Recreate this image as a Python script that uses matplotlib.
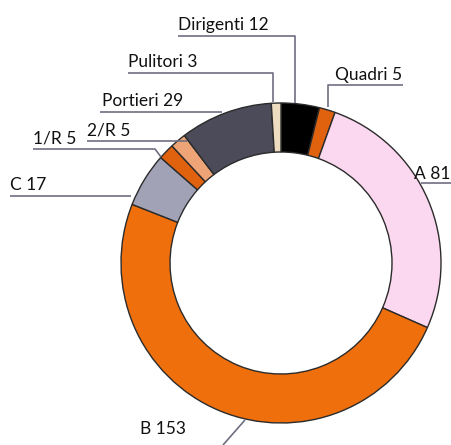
import matplotlib
matplotlib.use('Agg')
import matplotlib.pyplot as plt
from matplotlib import rcParams

rcParams['font.family'] = ['Lato', 'DejaVu Sans']

# data, clockwise from 12 o'clock
categories = ['Dirigenti', 'Quadri', 'A', 'B', 'C', '1/R', '2/R', 'Portieri', 'Pulitori']
counts = [12, 5, 81, 153, 17, 5, 5, 29, 3]
colors = ['#000000', '#e0620e', '#fbd8ef', '#ef6f0c', '#a2a2b6',
          '#e0620e', '#efa478', '#4b4b5a', '#eddcc0']

W, H = 452, 445
CENTER = (281, H - 263)
R_OUT = 160
R_IN = 111

# label layout in pixel coords (x, baseline y) and leader polyline
label_layout = {
    'Dirigenti': ((178, 30), [(178, 36), (295, 36), (295, 103)]),
    'Pulitori': ((128, 67), [(128, 73), (273, 73), (273, 102)]),
    'Quadri': ((335, 80), [(403, 85), (328, 85), (328, 107)]),
    'Portieri': ((102, 106), [(100, 112), (222, 112)]),
    '2/R': ((87, 135), [(87, 141), (187, 141)]),
    '1/R': ((33, 144), [(33, 149), (155, 149), (161, 157)]),
    'C': ((10, 190), [(10, 196), (131, 196)]),
    'A': ((414, 179), [(421, 183), (452, 183)]),
    'B': ((140, 434), [(245, 420), (223, 445)]),
}

fig = plt.figure(figsize=(W / 100, H / 100), dpi=100)
ax = fig.add_axes([0, 0, 1, 1])
ax.set_xlim(0, W)
ax.set_ylim(0, H)
ax.axis('off')

ax.pie(counts, colors=colors, radius=R_OUT, center=CENTER,
       startangle=90, counterclock=False,
       wedgeprops=dict(width=R_OUT - R_IN, edgecolor='#2b2b2b', linewidth=1.0))
ax.set_xlim(0, W)
ax.set_ylim(0, H)
ax.set_aspect('equal')

for name, n in zip(categories, counts):
    (tx, ty), pts = label_layout[name]
    xs = [p[0] for p in pts]
    ys = [H - p[1] for p in pts]
    ax.plot(xs, ys, color='#6e6e82', lw=1.2, solid_capstyle='butt', zorder=1)
    ax.text(tx, H - ty, f'{name} {n}', fontsize=12.5, color='#111111',
            ha='left', va='baseline')

plt.savefig('out.png', dpi=100)
plt.close()
